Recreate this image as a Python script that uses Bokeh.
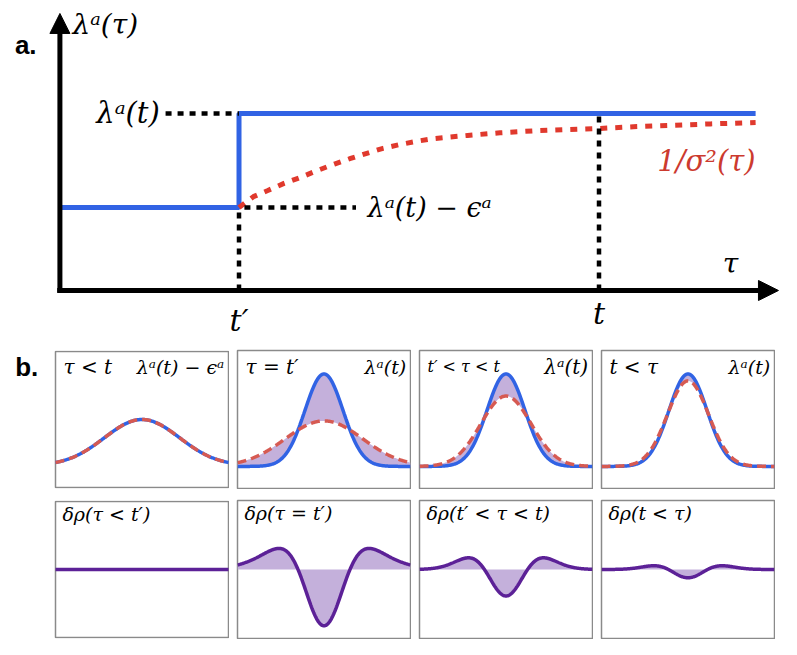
import numpy as np
from bokeh.plotting import figure
from bokeh.models import Label, Arrow, NormalHead, Range1d
from bokeh.layouts import column, row
from bokeh.embed import file_html
from bokeh.resources import INLINE

# ---------------- data: panel a ----------------
step_tau = [0.0, 1.0, 1.0, 3.87]
step_lam = [0.469, 0.469, 1.0, 1.0]

prec_tau = [1.0, 1.08, 1.16, 1.25, 1.34, 1.43, 1.53, 1.62, 1.71, 1.80, 1.90,
            2.00, 2.08, 2.27, 2.45, 2.64, 2.82, 3.00, 3.19, 3.38, 3.62, 3.87]
prec_lam = [0.469, 0.530, 0.565, 0.605, 0.638, 0.676, 0.714, 0.746, 0.775, 0.803, 0.826,
            0.845, 0.858, 0.876, 0.891, 0.902, 0.909, 0.915, 0.925, 0.932, 0.941, 0.949]

guide_x0 = [0.592, 1.03, 1.0, 3.0]
guide_y0 = [1.0, 0.469, 0.0, 0.0]
guide_x1 = [1.0, 1.65, 1.0, 3.0]
guide_y1 = [1.0, 0.469, 0.469, 1.0]

# ---------------- data: panel b ----------------
row1_left = ["τ < t", "τ = t′", "t′ < τ < t", "t < τ"]
row1_left_size = ["20px", "20px", "16px", "20px"]
row1_right = ["λᵃ(t) − ϵᵃ", "λᵃ(t)", "λᵃ(t)", "λᵃ(t)"]
row1_right_size = ["19px", "19px", "20px", "19px"]
row2_left = ["δρ(τ < t′)", "δρ(τ = t′)", "δρ(t′ < τ < t)", "δρ(t < τ)"]

base_level = 0.16
blue_amp = [0.34, 0.67, 0.67, 0.67]
blue_sd = [0.217, 0.11, 0.11, 0.11]
red_amp = [0.34, 0.33, 0.51, 0.62]
red_sd = [0.217, 0.224, 0.145, 0.119]
drho_mid = 0.5
drho_gain = 1.2

BLUE = "#3163e4"
RED_TOP = "#e0392d"
RED_TXT = "#cc3a2e"
RED_DASH = "#d65a52"
PURPLE = "#5c2197"
FILL = "#c4b0db"
BORDER = "#8a8a8a"
SERIF = "DejaVu Serif"

# ---------------- panel a ----------------
p = figure(width=789, height=348, x_range=Range1d(-0.2806, 4.0583),
           y_range=Range1d(-0.3277, 1.593), output_backend="svg",
           toolbar_location=None, x_axis_location=None, y_axis_location=None,
           min_border_left=8, min_border_right=0, min_border_top=8, min_border_bottom=0)
p.xgrid.visible = False
p.ygrid.visible = False
p.outline_line_color = None

p.line(step_tau, step_lam, line_color=BLUE, line_width=5)
p.line(prec_tau, prec_lam, line_color=RED_TOP, line_width=5, line_dash="7 8")
p.segment(guide_x0, guide_y0, guide_x1, guide_y1, line_color="black",
          line_width=4.5, line_dash="6 6")

p.add_layout(Arrow(end=NormalHead(size=20, fill_color="black", line_color="black"),
                   x_start=0.005, y_start=-0.012, x_end=0.005, y_end=1.565,
                   line_color="black", line_width=5))
p.add_layout(Arrow(end=NormalHead(size=20, fill_color="black", line_color="black"),
                   x_start=-0.01, y_start=0.0, x_end=3.997, y_end=0.0,
                   line_color="black", line_width=5))

def lab(fig, x, y, text, size, align="left", color="black", style="italic",
        font=SERIF, baseline="middle"):
    fig.add_layout(Label(x=x, y=y, text=text, text_font=font, text_font_size=size,
                         text_font_style=style, text_color=color, text_align=align,
                         text_baseline=baseline))

lab(p, -0.245, 1.384, "a.", "26px", style="bold", font="Liberation Sans")
lab(p, 0.075, 1.50, "λᵃ(τ)", "28px")
lab(p, 0.56, 1.0, "λᵃ(t)", "29px", align="right")
lab(p, 1.714, 0.469, "λᵃ(t) − ϵᵃ", "27px")
lab(p, 3.87, 0.734, "1/σ²(τ)", "29px", align="right", color=RED_TXT)
lab(p, 3.73, 0.153, "τ", "28px", align="center")
lab(p, 1.0, -0.17, "t′", "30px", align="center")
lab(p, 3.0, -0.13, "t", "30px", align="center")

# ---------------- panel b ----------------
xs = np.linspace(0, 1, 301)
LEFT_PAD = 55  # pixels left of first panel (page margin + room for "b.")

def mk(first):
    if first:
        f = figure(width=LEFT_PAD + 173 + 1, height=140,
                   x_range=Range1d(-LEFT_PAD / 173, 1 + 1 / 173),
                   y_range=Range1d(-1 / 138, 1 + 1 / 138), output_backend="svg",
                   toolbar_location=None, x_axis_location=None, y_axis_location=None,
                   min_border_left=0, min_border_right=0,
                   min_border_top=0, min_border_bottom=0)
        f.outline_line_color = None
        f.quad(left=[0], right=[1], bottom=[0], top=[1], fill_color=None,
               line_color=BORDER, line_width=1.5)
    else:
        f = figure(width=175, height=140, x_range=Range1d(0, 1),
                   y_range=Range1d(0, 1), output_backend="svg", toolbar_location=None,
                   x_axis_location=None, y_axis_location=None,
                   min_border_left=1, min_border_right=1,
                   min_border_top=1, min_border_bottom=1)
        f.outline_line_color = BORDER
        f.outline_line_width = 1.5
    f.xgrid.visible = False
    f.ygrid.visible = False
    return f

top_row, bot_row = [], []
for i in range(4):
    first = (i == 0)
    blue = base_level + blue_amp[i] * np.exp(-(xs - 0.5) ** 2 / (2 * blue_sd[i] ** 2))
    red = base_level + red_amp[i] * np.exp(-(xs - 0.5) ** 2 / (2 * red_sd[i] ** 2))
    f = mk(first)
    if i > 0:
        f.varea(x=xs, y1=red, y2=blue, fill_color=FILL, fill_alpha=1.0)
    f.line(xs, blue, line_color=BLUE, line_width=3.5)
    f.line(xs, red, line_color=RED_DASH, line_width=3.5, line_dash="9 5")
    lab(f, 0.046, 0.884, row1_left[i], row1_left_size[i])
    lab(f, 0.975, 0.884, row1_right[i], row1_right_size[i], align="right")
    if first:
        lab(f, -0.233, 0.884, "b.", "26px", style="bold", font="Liberation Sans")
    top_row.append(f)

    g = mk(first)
    drho = drho_mid + drho_gain * (red - blue)
    if i > 0:
        g.varea(x=xs, y1=np.full_like(xs, drho_mid), y2=drho, fill_color=FILL, fill_alpha=1.0)
    g.line(xs, drho, line_color=PURPLE, line_width=3.5)
    lab(g, 0.04, 0.906, row2_left[i], "19px")
    bot_row.append(g)

lay = column(p, column(row(*top_row, spacing=7), row(*bot_row, spacing=7), spacing=10),
             spacing=1)

open("out.html", "w").write(file_html(lay, INLINE))
